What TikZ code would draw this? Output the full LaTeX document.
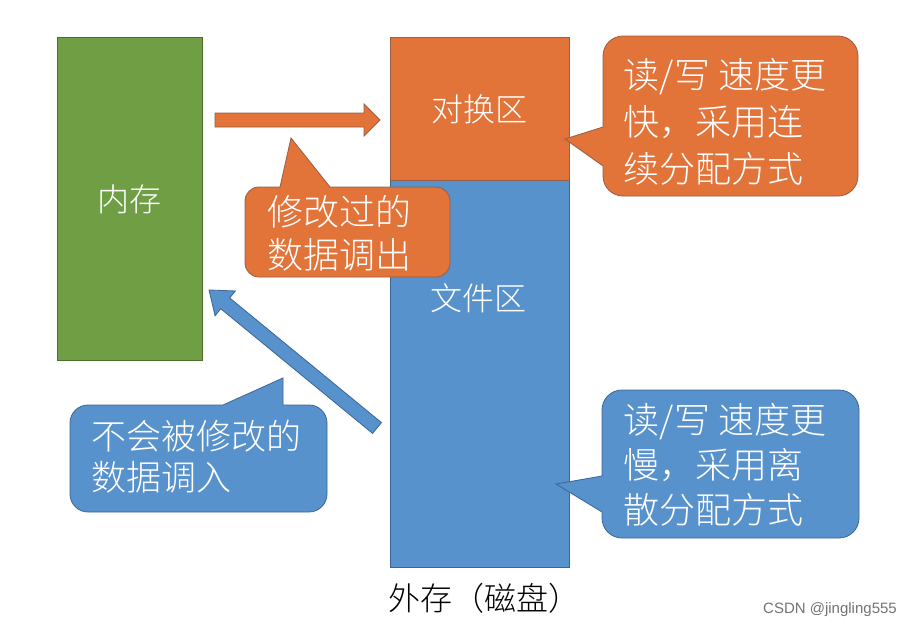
\documentclass[tikz,border=0pt]{standalone}
\usepackage{fontspec}
\newfontfamily\cjk{Noto Sans CJK SC}[UprightFont={* Light}]
\newfontfamily\wmfont{Liberation Sans}
\usetikzlibrary{calc}
\definecolor{orng}{RGB}{226,115,57}
\definecolor{orngB}{RGB}{150,95,70}
\definecolor{blu}{RGB}{88,146,204}
\definecolor{bluB}{RGB}{60,100,150}
\definecolor{grn}{RGB}{111,158,68}
\definecolor{grnB}{RGB}{75,110,45}
\newcommand\fatarrow[6]{%
  \coordinate (fab) at ($(#2)!#5!(#1)$);
  \filldraw[#6] ($(#1)!#3!90:(#2)$) -- ($(fab)!#3!90:(#2)$) -- ($(fab)!#4!90:(#2)$)
    -- (#2) -- ($(fab)!#4!-90:(#2)$) -- ($(fab)!#3!-90:(#2)$) -- ($(#1)!#3!-90:(#2)$) -- cycle;
}
\tikzset{
  rectbox/.style={draw, line width=0.8pt, anchor=north west, inner sep=0pt,
    text=white, font=\cjk\fontsize{32}{38}\selectfont},
  lbl/.style={text=white, inner sep=0pt, font=\cjk\fontsize{32}{38}\selectfont},
  ctext/.style={text=white, inner sep=0pt, align=left},
  ofill/.style={fill=orng, draw=orngB, line width=0.8pt},
  bfill/.style={fill=blu, draw=bluB, line width=0.8pt},
}
\begin{document}
\begin{tikzpicture}[x=1pt,y=-1pt]
\useasboundingbox (0,0) rectangle (917,629);
\fill[white] (0,0) rectangle (917,629);

% main blocks
\node[rectbox, fill=grn, draw=grnB, minimum width=145pt, minimum height=323pt] (mem) at (57,37) {内存};
\node[rectbox, fill=blu, draw=bluB, minimum width=179pt, minimum height=387pt] (file) at (390,180) {};
\node[rectbox, fill=orng, draw=orngB, minimum width=179pt, minimum height=143pt] (swap) at (390,37) {对换区};
\node[lbl] (filelbl) at (478,298) {文件区};

% fat arrows
\coordinate (a1t) at (215,120);
\coordinate (a1h) at (380,120);
\fatarrow{a1t}{a1h}{7pt}{16pt}{16pt}{ofill}
\coordinate (a2t) at (377,428);
\coordinate (a2h) at (209,290);
\fatarrow{a2t}{a2h}{7pt}{16pt}{21pt}{bfill}

% callout: modified data out
\filldraw[ofill] (280,187) -- (291,138) -- (330,187) -- (436,187) arc(270:360:14)
  -- (450,263) arc(0:90:14) -- (259,277) arc(90:180:14) -- (245,201) arc(180:270:14) -- cycle;
\node[ctext, font=\cjk\fontsize{36}{43}\selectfont] (t1) at (339,233) {修改过的\\数据调出};

% callout: swap area
\filldraw[ofill] (603,166) -- (565,139) -- (603,127) -- (603,56) arc(180:270:20)
  -- (838,36) arc(270:360:20) -- (858,176) arc(0:90:20) -- (623,196) arc(90:180:20) -- cycle;
\node[ctext, font=\cjk\fontsize{36}{47}\selectfont] (t2) at (725,122) {读/写 速度更\\快，采用连\\续分配方式};

% callout: file area
\filldraw[bfill] (602,512) -- (556,484) -- (602,476) -- (602,410) arc(180:270:20)
  -- (839,390) arc(270:360:20) -- (859,518) arc(0:90:20) -- (622,538) arc(90:180:20) -- cycle;
\node[ctext, font=\cjk\fontsize{36}{45}\selectfont] (t3) at (725,465) {读/写 速度更\\慢，采用离\\散分配方式};

% callout: unmodified data in
\filldraw[bfill] (223,405) -- (283,378) -- (283,405) -- (309,405) arc(270:360:18)
  -- (327,494) arc(0:90:18) -- (88,512) arc(90:180:18) -- (70,423) arc(180:270:18) -- cycle;
\node[ctext, font=\cjk\fontsize{35}{41}\selectfont] (t4) at (196,457) {不会被修改的\\数据调入};

% captions
\node[inner sep=0pt, font=\cjk\fontsize{32}{38}\selectfont] (ext) at (484,598) {外存（磁盘）};
\node[inner sep=0pt, text=black!55, font=\wmfont\fontsize{15}{18}\selectfont] (wm) at (830,610) {CSDN @jingling555};
\end{tikzpicture}
\end{document}
